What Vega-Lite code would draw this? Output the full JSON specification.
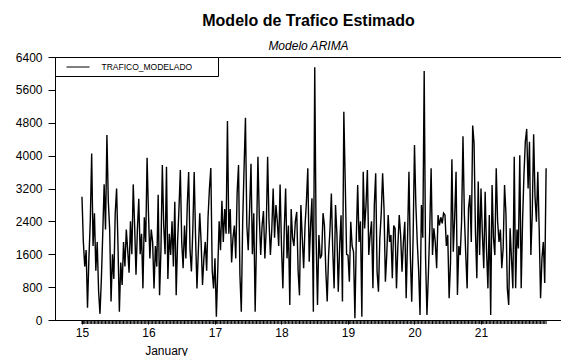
{
  "$schema": "https://vega.github.io/schema/vega-lite/v6.json",
  "width": 507,
  "height": 263,
  "autosize": {"type": "none"},
  "padding": {"left": 55, "top": 57, "right": 0, "bottom": 36},
  "background": "white",
  "title": {
    "text": "Modelo de Trafico Estimado",
    "subtitle": "Modelo ARIMA",
    "anchor": "middle",
    "font": "Liberation Sans",
    "fontSize": 16,
    "fontWeight": "bold",
    "color": "black",
    "subtitleFont": "Liberation Sans",
    "subtitleFontSize": 12,
    "subtitleFontStyle": "italic",
    "subtitleColor": "black",
    "subtitlePadding": 12,
    "offset": -1
  },
  "config": {
    "view": {"stroke": "black", "strokeWidth": 1},
    "axis": {
      "grid": false,
      "domainColor": "black",
      "tickColor": "black",
      "labelColor": "black",
      "labelFont": "Liberation Sans",
      "labelFontSize": 12,
      "labelOverlap": false,
      "titleFont": "Liberation Sans",
      "titleColor": "black"
    },
    "axisY": {"labelOverlap": false, "labelFlush": false}
  },
  "data": {
    "values": [
      {"t":"2015-01-15T00:00","v":3000},{"t":"2015-01-15T00:30","v":1900},{"t":"2015-01-15T01:00","v":1300},{"t":"2015-01-15T01:30","v":1700},{"t":"2015-01-15T02:00","v":300},{"t":"2015-01-15T02:30","v":1500},{"t":"2015-01-15T03:00","v":2400},{"t":"2015-01-15T03:30","v":4050},
      {"t":"2015-01-15T04:00","v":1800},{"t":"2015-01-15T04:30","v":2600},{"t":"2015-01-15T05:00","v":1200},{"t":"2015-01-15T05:30","v":1900},{"t":"2015-01-15T06:00","v":700},{"t":"2015-01-15T06:30","v":150},{"t":"2015-01-15T07:00","v":1000},{"t":"2015-01-15T07:30","v":2100},
      {"t":"2015-01-15T08:00","v":3300},{"t":"2015-01-15T08:30","v":2200},{"t":"2015-01-15T09:00","v":4500},{"t":"2015-01-15T09:30","v":2900},{"t":"2015-01-15T10:00","v":2200},{"t":"2015-01-15T10:30","v":450},{"t":"2015-01-15T11:00","v":1600},{"t":"2015-01-15T11:30","v":1000},
      {"t":"2015-01-15T12:00","v":2600},{"t":"2015-01-15T12:30","v":3200},{"t":"2015-01-15T13:00","v":1800},{"t":"2015-01-15T13:30","v":200},{"t":"2015-01-15T14:00","v":1400},{"t":"2015-01-15T14:30","v":850},{"t":"2015-01-15T15:00","v":1900},{"t":"2015-01-15T15:30","v":1300},
      {"t":"2015-01-15T16:00","v":2200},{"t":"2015-01-15T16:30","v":1700},{"t":"2015-01-15T17:00","v":1150},{"t":"2015-01-15T17:30","v":2400},{"t":"2015-01-15T18:00","v":1600},{"t":"2015-01-15T18:30","v":3300},{"t":"2015-01-15T19:00","v":2300},{"t":"2015-01-15T19:30","v":1100},
      {"t":"2015-01-15T20:00","v":2200},{"t":"2015-01-15T20:30","v":2950},{"t":"2015-01-15T21:00","v":1600},{"t":"2015-01-15T21:30","v":2100},{"t":"2015-01-15T22:00","v":770},{"t":"2015-01-15T22:30","v":2500},{"t":"2015-01-15T23:00","v":1900},{"t":"2015-01-15T23:30","v":3950},
      {"t":"2015-01-16T00:00","v":2600},{"t":"2015-01-16T00:30","v":1500},{"t":"2015-01-16T01:00","v":2200},{"t":"2015-01-16T01:30","v":1900},{"t":"2015-01-16T02:00","v":770},{"t":"2015-01-16T02:30","v":1800},{"t":"2015-01-16T03:00","v":1300},{"t":"2015-01-16T03:30","v":3050},
      {"t":"2015-01-16T04:00","v":600},{"t":"2015-01-16T04:30","v":1700},{"t":"2015-01-16T05:00","v":3770},{"t":"2015-01-16T05:30","v":2300},{"t":"2015-01-16T06:00","v":1600},{"t":"2015-01-16T06:30","v":3730},{"t":"2015-01-16T07:00","v":1000},{"t":"2015-01-16T07:30","v":2100},
      {"t":"2015-01-16T08:00","v":1580},{"t":"2015-01-16T08:30","v":2400},{"t":"2015-01-16T09:00","v":1300},{"t":"2015-01-16T09:30","v":2880},{"t":"2015-01-16T10:00","v":600},{"t":"2015-01-16T10:30","v":1900},{"t":"2015-01-16T11:00","v":2700},{"t":"2015-01-16T11:30","v":3650},
      {"t":"2015-01-16T12:00","v":1900},{"t":"2015-01-16T12:30","v":1260},{"t":"2015-01-16T13:00","v":2300},{"t":"2015-01-16T13:30","v":1500},{"t":"2015-01-16T14:00","v":2800},{"t":"2015-01-16T14:30","v":3600},{"t":"2015-01-16T15:00","v":1700},{"t":"2015-01-16T15:30","v":1180},
      {"t":"2015-01-16T16:00","v":2200},{"t":"2015-01-16T16:30","v":3600},{"t":"2015-01-16T17:00","v":2000},{"t":"2015-01-16T17:30","v":770},{"t":"2015-01-16T18:00","v":1700},{"t":"2015-01-16T18:30","v":2600},{"t":"2015-01-16T19:00","v":1900},{"t":"2015-01-16T19:30","v":850},
      {"t":"2015-01-16T20:00","v":1500},{"t":"2015-01-16T20:30","v":1900},{"t":"2015-01-16T21:00","v":1200},{"t":"2015-01-16T21:30","v":2500},{"t":"2015-01-16T22:00","v":3200},{"t":"2015-01-16T22:30","v":3700},{"t":"2015-01-16T23:00","v":1200},{"t":"2015-01-16T23:30","v":770},
      {"t":"2015-01-17T00:00","v":1500},{"t":"2015-01-17T00:30","v":80},{"t":"2015-01-17T01:00","v":1200},{"t":"2015-01-17T01:30","v":2400},{"t":"2015-01-17T02:00","v":1700},{"t":"2015-01-17T02:30","v":2900},{"t":"2015-01-17T03:00","v":1900},{"t":"2015-01-17T03:30","v":2700},
      {"t":"2015-01-17T04:00","v":2100},{"t":"2015-01-17T04:30","v":4840},{"t":"2015-01-17T05:00","v":2100},{"t":"2015-01-17T05:30","v":2700},{"t":"2015-01-17T06:00","v":1400},{"t":"2015-01-17T06:30","v":2000},{"t":"2015-01-17T07:00","v":2300},{"t":"2015-01-17T07:30","v":1500},
      {"t":"2015-01-17T08:00","v":3100},{"t":"2015-01-17T08:30","v":3770},{"t":"2015-01-17T09:00","v":1100},{"t":"2015-01-17T09:30","v":200},{"t":"2015-01-17T10:00","v":2400},{"t":"2015-01-17T10:30","v":3700},{"t":"2015-01-17T11:00","v":4920},{"t":"2015-01-17T11:30","v":2300},
      {"t":"2015-01-17T12:00","v":1700},{"t":"2015-01-17T12:30","v":2700},{"t":"2015-01-17T13:00","v":3800},{"t":"2015-01-17T13:30","v":1600},{"t":"2015-01-17T14:00","v":2600},{"t":"2015-01-17T14:30","v":200},{"t":"2015-01-17T15:00","v":2000},{"t":"2015-01-17T15:30","v":3970},
      {"t":"2015-01-17T16:00","v":2500},{"t":"2015-01-17T16:30","v":1580},{"t":"2015-01-17T17:00","v":2300},{"t":"2015-01-17T17:30","v":2650},{"t":"2015-01-17T18:00","v":1500},{"t":"2015-01-17T18:30","v":2200},{"t":"2015-01-17T19:00","v":3970},{"t":"2015-01-17T19:30","v":2400},
      {"t":"2015-01-17T20:00","v":1580},{"t":"2015-01-17T20:30","v":2200},{"t":"2015-01-17T21:00","v":3200},{"t":"2015-01-17T21:30","v":2000},{"t":"2015-01-17T22:00","v":2800},{"t":"2015-01-17T22:30","v":2400},{"t":"2015-01-17T23:00","v":1800},{"t":"2015-01-17T23:30","v":3300},
      {"t":"2015-01-18T00:00","v":1800},{"t":"2015-01-18T00:30","v":770},{"t":"2015-01-18T01:00","v":2200},{"t":"2015-01-18T01:30","v":3200},{"t":"2015-01-18T02:00","v":1500},{"t":"2015-01-18T02:30","v":2300},{"t":"2015-01-18T03:00","v":365},{"t":"2015-01-18T03:30","v":2700},
      {"t":"2015-01-18T04:00","v":2000},{"t":"2015-01-18T04:30","v":1800},{"t":"2015-01-18T05:00","v":2400},{"t":"2015-01-18T05:30","v":2630},{"t":"2015-01-18T06:00","v":1200},{"t":"2015-01-18T06:30","v":600},{"t":"2015-01-18T07:00","v":2800},{"t":"2015-01-18T07:30","v":2000},
      {"t":"2015-01-18T08:00","v":1260},{"t":"2015-01-18T08:30","v":2300},{"t":"2015-01-18T09:00","v":2880},{"t":"2015-01-18T09:30","v":3690},{"t":"2015-01-18T10:00","v":1420},{"t":"2015-01-18T10:30","v":2300},{"t":"2015-01-18T11:00","v":2960},{"t":"2015-01-18T11:30","v":200},
      {"t":"2015-01-18T12:00","v":6150},{"t":"2015-01-18T12:30","v":2000},{"t":"2015-01-18T13:00","v":365},{"t":"2015-01-18T13:30","v":2070},{"t":"2015-01-18T14:00","v":1500},{"t":"2015-01-18T14:30","v":1580},{"t":"2015-01-18T15:00","v":2600},{"t":"2015-01-18T15:30","v":2300},
      {"t":"2015-01-18T16:00","v":1200},{"t":"2015-01-18T16:30","v":450},{"t":"2015-01-18T17:00","v":1580},{"t":"2015-01-18T17:30","v":2200},{"t":"2015-01-18T18:00","v":3080},{"t":"2015-01-18T18:30","v":1700},{"t":"2015-01-18T19:00","v":770},{"t":"2015-01-18T19:30","v":2800},
      {"t":"2015-01-18T20:00","v":2100},{"t":"2015-01-18T20:30","v":690},{"t":"2015-01-18T21:00","v":1800},{"t":"2015-01-18T21:30","v":2550},{"t":"2015-01-18T22:00","v":450},{"t":"2015-01-18T22:30","v":5070},{"t":"2015-01-18T23:00","v":3370},{"t":"2015-01-18T23:30","v":1600},
      {"t":"2015-01-19T00:00","v":1580},{"t":"2015-01-19T00:30","v":933},{"t":"2015-01-19T01:00","v":2390},{"t":"2015-01-19T01:30","v":1800},{"t":"2015-01-19T02:00","v":1660},{"t":"2015-01-19T02:30","v":40},{"t":"2015-01-19T03:00","v":2000},{"t":"2015-01-19T03:30","v":3285},
      {"t":"2015-01-19T04:00","v":1900},{"t":"2015-01-19T04:30","v":2400},{"t":"2015-01-19T05:00","v":80},{"t":"2015-01-19T05:30","v":3610},{"t":"2015-01-19T06:00","v":2230},{"t":"2015-01-19T06:30","v":2800},{"t":"2015-01-19T07:00","v":3650},{"t":"2015-01-19T07:30","v":1580},
      {"t":"2015-01-19T08:00","v":2070},{"t":"2015-01-19T08:30","v":2400},{"t":"2015-01-19T09:00","v":770},{"t":"2015-01-19T09:30","v":2800},{"t":"2015-01-19T10:00","v":3570},{"t":"2015-01-19T10:30","v":1176},{"t":"2015-01-19T11:00","v":690},{"t":"2015-01-19T11:30","v":1987},
      {"t":"2015-01-19T12:00","v":2600},{"t":"2015-01-19T12:30","v":3570},{"t":"2015-01-19T13:00","v":2717},{"t":"2015-01-19T13:30","v":933},{"t":"2015-01-19T14:00","v":1600},{"t":"2015-01-19T14:30","v":2555},{"t":"2015-01-19T15:00","v":1900},{"t":"2015-01-19T15:30","v":2070},
      {"t":"2015-01-19T16:00","v":1014},{"t":"2015-01-19T16:30","v":2300},{"t":"2015-01-19T17:00","v":2230},{"t":"2015-01-19T17:30","v":770},{"t":"2015-01-19T18:00","v":1800},{"t":"2015-01-19T18:30","v":2555},{"t":"2015-01-19T19:00","v":2070},{"t":"2015-01-19T19:30","v":1176},
      {"t":"2015-01-19T20:00","v":1900},{"t":"2015-01-19T20:30","v":2390},{"t":"2015-01-19T21:00","v":527},{"t":"2015-01-19T21:30","v":2000},{"t":"2015-01-19T22:00","v":3610},{"t":"2015-01-19T22:30","v":1580},{"t":"2015-01-19T23:00","v":446},{"t":"2015-01-19T23:30","v":2000},
      {"t":"2015-01-20T00:00","v":4260},{"t":"2015-01-20T00:30","v":2800},{"t":"2015-01-20T01:00","v":1900},{"t":"2015-01-20T01:30","v":1200},{"t":"2015-01-20T02:00","v":120},{"t":"2015-01-20T02:30","v":2800},{"t":"2015-01-20T03:00","v":2000},{"t":"2015-01-20T03:30","v":6060},
      {"t":"2015-01-20T04:00","v":1500},{"t":"2015-01-20T04:30","v":120},{"t":"2015-01-20T05:00","v":1095},{"t":"2015-01-20T05:30","v":2200},{"t":"2015-01-20T06:00","v":3690},{"t":"2015-01-20T06:30","v":1580},{"t":"2015-01-20T07:00","v":2230},{"t":"2015-01-20T07:30","v":1900},
      {"t":"2015-01-20T08:00","v":1260},{"t":"2015-01-20T08:30","v":2555},{"t":"2015-01-20T09:00","v":2300},{"t":"2015-01-20T09:30","v":2500},{"t":"2015-01-20T10:00","v":2350},{"t":"2015-01-20T10:30","v":2600},{"t":"2015-01-20T11:00","v":2555},{"t":"2015-01-20T11:30","v":1800},
      {"t":"2015-01-20T12:00","v":2070},{"t":"2015-01-20T12:30","v":527},{"t":"2015-01-20T13:00","v":1400},{"t":"2015-01-20T13:30","v":3910},{"t":"2015-01-20T14:00","v":1660},{"t":"2015-01-20T14:30","v":2500},{"t":"2015-01-20T15:00","v":3610},{"t":"2015-01-20T15:30","v":610},
      {"t":"2015-01-20T16:00","v":1800},{"t":"2015-01-20T16:30","v":1580},{"t":"2015-01-20T17:00","v":2400},{"t":"2015-01-20T17:30","v":4470},{"t":"2015-01-20T18:00","v":2555},{"t":"2015-01-20T18:30","v":1600},{"t":"2015-01-20T19:00","v":770},{"t":"2015-01-20T19:30","v":2717},
      {"t":"2015-01-20T20:00","v":3040},{"t":"2015-01-20T20:30","v":1900},{"t":"2015-01-20T21:00","v":4730},{"t":"2015-01-20T21:30","v":4300},{"t":"2015-01-20T22:00","v":2150},{"t":"2015-01-20T22:30","v":1014},{"t":"2015-01-20T23:00","v":3370},{"t":"2015-01-20T23:30","v":1580},
      {"t":"2015-01-21T00:00","v":3200},{"t":"2015-01-21T00:30","v":2100},{"t":"2015-01-21T01:00","v":1260},{"t":"2015-01-21T01:30","v":3120},{"t":"2015-01-21T02:00","v":1700},{"t":"2015-01-21T02:30","v":770},{"t":"2015-01-21T03:00","v":2555},{"t":"2015-01-21T03:30","v":122},
      {"t":"2015-01-21T04:00","v":3285},{"t":"2015-01-21T04:30","v":2000},{"t":"2015-01-21T05:00","v":1580},{"t":"2015-01-21T05:30","v":3690},{"t":"2015-01-21T06:00","v":2400},{"t":"2015-01-21T06:30","v":1900},{"t":"2015-01-21T07:00","v":2200},{"t":"2015-01-21T07:30","v":1260},
      {"t":"2015-01-21T08:00","v":1740},{"t":"2015-01-21T08:30","v":3285},{"t":"2015-01-21T09:00","v":2600},{"t":"2015-01-21T09:30","v":770},{"t":"2015-01-21T10:00","v":365},{"t":"2015-01-21T10:30","v":2230},{"t":"2015-01-21T11:00","v":1500},{"t":"2015-01-21T11:30","v":770},
      {"t":"2015-01-21T12:00","v":3970},{"t":"2015-01-21T12:30","v":770},{"t":"2015-01-21T13:00","v":2200},{"t":"2015-01-21T13:30","v":1740},{"t":"2015-01-21T14:00","v":4010},{"t":"2015-01-21T14:30","v":770},{"t":"2015-01-21T15:00","v":2400},{"t":"2015-01-21T15:30","v":3528},
      {"t":"2015-01-21T16:00","v":4340},{"t":"2015-01-21T16:30","v":4650},{"t":"2015-01-21T17:00","v":3200},{"t":"2015-01-21T17:30","v":4340},{"t":"2015-01-21T18:00","v":1580},{"t":"2015-01-21T18:30","v":2600},{"t":"2015-01-21T19:00","v":4520},{"t":"2015-01-21T19:30","v":3000},
      {"t":"2015-01-21T20:00","v":2390},{"t":"2015-01-21T20:30","v":3610},{"t":"2015-01-21T21:00","v":2200},{"t":"2015-01-21T21:30","v":527},{"t":"2015-01-21T22:00","v":1500},{"t":"2015-01-21T22:30","v":1900},{"t":"2015-01-21T23:00","v":900},{"t":"2015-01-21T23:30","v":3690}
    ]
  },
  "encoding": {
    "x": {
      "field": "t",
      "type": "temporal",
      "scale": {
        "domain": [
          {"year": 2015, "month": 1, "date": 14, "hours": 14, "minutes": 16},
          {"year": 2015, "month": 1, "date": 22, "hours": 5, "minutes": 14}
        ]
      },
      "axis": {
        "values": [
          {"year": 2015, "month": 1, "date": 15}, {"year": 2015, "month": 1, "date": 16},
          {"year": 2015, "month": 1, "date": 17}, {"year": 2015, "month": 1, "date": 18},
          {"year": 2015, "month": 1, "date": 19}, {"year": 2015, "month": 1, "date": 20},
          {"year": 2015, "month": 1, "date": 21}
        ],
        "format": "%-d",
        "tickSize": 4,
        "labelPadding": 3,
        "labelFlush": false,
        "labelOverlap": false,
        "title": "January",
        "titleFontSize": 12,
        "titleFontWeight": "normal",
        "titleAlign": "center",
        "titleBaseline": "middle",
        "titleX": 111,
        "titleY": 30
      }
    }
  },
  "layer": [
    {
      "mark": {"type": "tick", "orient": "vertical", "color": "black", "size": 4, "thickness": 1, "clip": false, "opacity": 1},
      "encoding": {
        "y": {
          "datum": -50,
          "type": "quantitative",
          "axis": {
            "values": [0, 800, 1600, 2400, 3200, 4000, 4800, 5600, 6400],
            "format": "d",
            "labelOverlap": false,
            "tickSize": 7,
            "labelPadding": 6,
            "title": null
          }
        }
      }
    },
    {
      "mark": {"type": "line", "strokeWidth": 1.4, "interpolate": "linear"},
      "encoding": {
        "y": {
          "field": "v",
          "type": "quantitative",
          "scale": {"domain": [0, 6400], "nice": false, "zero": false},
          "axis": {
            "values": [0, 800, 1600, 2400, 3200, 4000, 4800, 5600, 6400],
            "format": "d",
            "labelOverlap": false,
            "tickSize": 7,
            "labelPadding": 6,
            "title": null
          }
        },
        "color": {
          "datum": "TRAFICO_MODELADO",
          "type": "nominal",
          "scale": {"range": ["black"]},
          "legend": {
            "orient": "none",
            "legendX": 0,
            "legendY": 0,
            "title": null,
            "padding": 4.5,
            "strokeColor": "black",
            "fillColor": "white",
            "cornerRadius": 0,
            "symbolType": "M-2.3,0H2.3",
            "symbolSize": 100,
            "symbolStrokeWidth": 1,
            "symbolStrokeColor": "black",
            "symbolFillColor": "transparent",
            "symbolOffset": 13,
            "labelOffset": 18,
            "labelFont": "Liberation Sans",
            "labelFontSize": 8.5,
            "labelColor": "black",
            "labelExpr": "datum.label + '\u2800\u2800\u2800'"
          }
        }
      }
    }
  ]
}
